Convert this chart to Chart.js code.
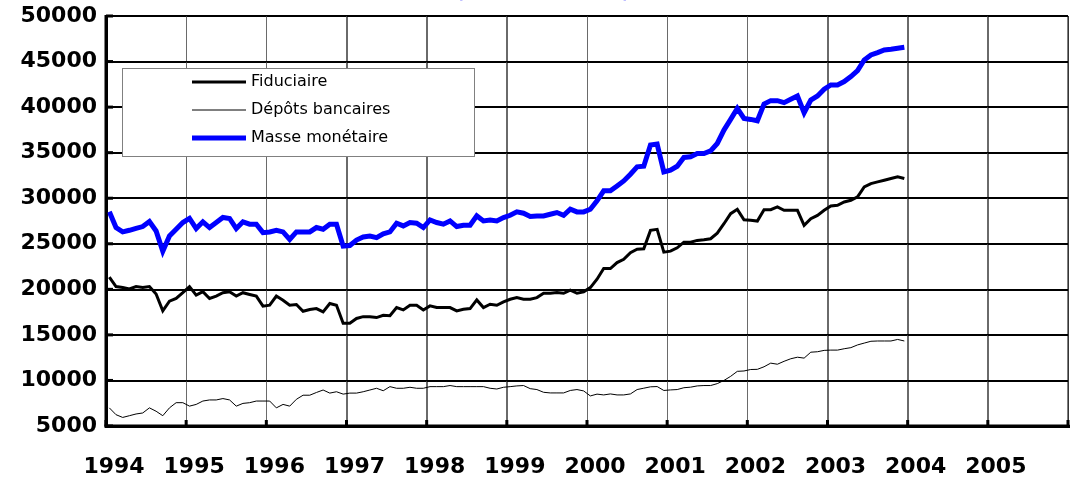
<!DOCTYPE html>
<html>
<head>
<meta charset="utf-8">
<script src="https://cdn.jsdelivr.net/npm/chart.js@4.4.1/dist/chart.umd.min.js"></script>
<style>
html, body { margin: 0; padding: 0; background: #fff; overflow: hidden; }
#wrap { width: 1075px; height: 482px; position: relative; }
#gridLayer { position: absolute; left: 0; top: 0; width: 1075px; height: 482px; z-index: 0; }
#gridLayer div { position: absolute; }
#chart { position: relative; z-index: 1; }
#title {
    position: absolute; left: 393px; top: -15px; width: 300px; z-index: 2;
    text-align: center; color: #0000FF; font: bold 16px/16px 'DejaVu Sans', Arial, sans-serif;
}
</style>
</head>
<body>
<div id="wrap">
    <div id="gridLayer"></div>
    <div id="title">(en millions de DH)</div>
    <canvas id="chart"></canvas>
</div>
<script>
// monthly series, Jan 1994 -> Dec 2003
var startYear = 1994;
var yearLabels = [1994, 1995, 1996, 1997, 1998, 1999, 2000, 2001, 2002, 2003, 2004, 2005];

var fiduciaire = [
    21330, 20300, 20190, 20040, 20300, 20190, 20300, 19480, 17630, 18700,
    19000, 19630, 20300, 19370, 19740, 19000, 19260, 19630, 19740, 19260,
    19630, 19440, 19260, 18150, 18260, 19260, 18810, 18260, 18330, 17590,
    17780, 17890, 17520, 18440, 18260, 16280, 16280, 16800, 17000, 17000,
    16900, 17150, 17100, 18000, 17740, 18250, 18250, 17740, 18180, 18000,
    18000, 18000, 17630, 17810, 17890, 18840, 18000, 18360, 18250, 18620,
    18910, 19090, 18910, 18910, 19090, 19570, 19570, 19640, 19570, 19900,
    19570, 19720, 20190, 21110, 22280, 22280, 22940, 23300, 24030, 24400,
    24450, 26470, 26580, 24080, 24190, 24560, 25180, 25180, 25370, 25440,
    25550, 26170, 27200, 28300, 28780, 27640, 27570, 27490, 28740, 28740,
    29040, 28670, 28670, 28670, 27020, 27750, 28120, 28670, 29150, 29220,
    29590, 29770, 30140, 31240, 31610, 31790, 31970, 32160, 32340, 32160
];

var depots = [
    6990, 6240, 5940, 6130, 6320, 6430, 6990, 6620, 6130, 6990,
    7560, 7560, 7180, 7370, 7740, 7860, 7860, 8010, 7860, 7180,
    7480, 7560, 7740, 7740, 7740, 6990, 7370, 7180, 7930, 8380,
    8380, 8680, 8950, 8610, 8760, 8500, 8610, 8610, 8760, 8950,
    9140, 8870, 9320, 9140, 9140, 9250, 9140, 9140, 9320, 9320,
    9320, 9440, 9320, 9320, 9320, 9320, 9320, 9140, 9060, 9250,
    9320, 9400, 9440, 9100, 9000, 8700, 8630, 8630, 8630, 8900,
    9000, 8850, 8300, 8500, 8410, 8520, 8410, 8410, 8520, 9000,
    9150, 9300, 9330, 8900, 8960, 9000, 9200, 9260, 9400, 9440,
    9440, 9650, 10000, 10450, 11000, 11040, 11200, 11220, 11500, 11900,
    11780, 12100, 12380, 12550, 12450, 13100, 13150, 13300, 13330, 13330,
    13480, 13600, 13900, 14100, 14300, 14330, 14330, 14330, 14500, 14330
];

var masse = [
    28520, 26780, 26300, 26480, 26700, 26890, 27440, 26410, 24180, 25850,
    26590, 27330, 27780, 26670, 27410, 26780, 27330, 27890, 27780, 26670,
    27410, 27150, 27150, 26220, 26300, 26480, 26300, 25480, 26300, 26300,
    26300, 26780, 26590, 27150, 27150, 24740, 24810, 25410, 25740, 25850,
    25680, 26100, 26300, 27260, 26960, 27330, 27260, 26780, 27620, 27330,
    27150, 27510, 26890, 27040, 27040, 28060, 27510, 27620, 27510, 27880,
    28130, 28500, 28350, 27990, 28060, 28060, 28240, 28430, 28130, 28790,
    28500, 28500, 28790, 29710, 30810, 30810, 31350, 31900, 32640, 33450,
    33510, 35830, 35940, 32890, 33070, 33510, 34470, 34540, 34910, 34910,
    35200, 36010, 37480, 38650, 39860, 38760, 38650, 38500, 40340, 40710,
    40710, 40490, 40850, 41220, 39380, 40780, 41220, 41960, 42430, 42430,
    42800, 43350, 44010, 45180, 45730, 45990, 46280, 46360, 46470, 46580
];

// each month sits in the middle of its slot
function toPoints(values) {
    return values.map(function (v, i) {
        return { x: startYear + (i + 0.5) / 12, y: v };
    });
}

var fontFam = "'DejaVu Sans', Arial, sans-serif";

// frame, inner ticks and legend box on top of the lines
var overlay = {
    id: 'overlay',
    afterDraw: function (chart) {
        var ctx = chart.ctx;
        var xs = chart.scales.x, ys = chart.scales.y;
        var left = xs.getPixelForValue(xs.min), right = xs.getPixelForValue(xs.max);
        var top = ys.getPixelForValue(ys.max), bottom = ys.getPixelForValue(ys.min);
        ctx.save();
        ctx.fillStyle = '#000';
        ctx.fillRect(right - 0.5, top, 1, bottom - top);
        ctx.fillRect(left - 1.5, top - 1, 3, bottom - top + 2.5);
        ctx.fillRect(left - 1.5, bottom - 1.5, right - left + 3, 3);
        xs.ticks.forEach(function (t) {
            ctx.fillRect(xs.getPixelForValue(t.value) - 1.5, bottom - 6, 3, 6);
        });
        ys.ticks.forEach(function (t) {
            ctx.fillRect(left, ys.getPixelForValue(t.value) - 1.5, 7, 3);
        });

        var x0 = 122, y0 = 68, w = 352, h = 88;
        ctx.fillStyle = '#fff';
        ctx.fillRect(x0, y0, w, h);
        ctx.strokeStyle = '#808080';
        ctx.lineWidth = 1;
        ctx.strokeRect(x0 + 0.5, y0 + 0.5, w, h);
        ctx.font = '16px ' + fontFam;
        ctx.textBaseline = 'middle';
        ctx.fillStyle = '#000';
        chart.data.datasets.forEach(function (ds, k) {
            var y = 82 + k * 28;
            ctx.beginPath();
            ctx.strokeStyle = ds.borderColor;
            ctx.lineWidth = ds.borderWidth;
            ctx.moveTo(192, y);
            ctx.lineTo(246, y);
            ctx.stroke();
            ctx.fillText(ds.label, 251, y);
        });
        ctx.restore();
    }
};

var chart = new Chart('chart', {
    type: 'line',
    data: {
        datasets: [{
            label: 'Fiduciaire',
            data: toPoints(fiduciaire),
            borderColor: '#000000',
            borderWidth: 3
        }, {
            label: 'Dépôts bancaires',
            data: toPoints(depots),
            borderColor: '#000000',
            borderWidth: 1
        }, {
            label: 'Masse monétaire',
            data: toPoints(masse),
            borderColor: '#0000FF',
            borderWidth: 5
        }]
    },
    options: {
        responsive: true,
        maintainAspectRatio: false,
        animation: false,
        layout: { padding: { left: 0, right: 7, top: 16, bottom: 0 } },
        elements: {
            point: { radius: 0 },
            line: { tension: 0 }
        },
        plugins: {
            legend: { display: false },
            tooltip: { enabled: false }
        },
        scales: {
            x: {
                type: 'linear',
                min: 1994,
                max: 2006,
                afterFit: function (s) {
                    s.height = 56;
                    s.paddingLeft = 0;
                    s.paddingRight = 0;
                },
                ticks: {
                    stepSize: 1,
                    padding: 28,
                    labelOffset: 8,
                    color: '#000',
                    maxRotation: 0,
                    autoSkip: false,
                    font: { family: fontFam, size: 22, weight: 'bold' },
                    callback: function (v) {
                        return yearLabels.indexOf(v) >= 0 ? String(v) : '';
                    }
                },
                grid: { color: '#6a6a6a', lineWidth: 1, drawTicks: false }
            },
            y: {
                min: 5000,
                max: 50000,
                afterFit: function (s) {
                    s.width = 106;
                    s.paddingTop = 0;
                    s.paddingBottom = 0;
                },
                ticks: {
                    stepSize: 5000,
                    padding: 9,
                    color: '#000',
                    font: { family: fontFam, size: 22, weight: 'bold' },
                    callback: function (v) { return String(v); }
                },
                grid: { color: '#000', lineWidth: 1.5, drawTicks: false }
            }
        }
    },
    plugins: [overlay]
});

// same grid again as html lines behind the (transparent) canvas
function buildGridLayer(ch) {
    var layer = document.getElementById('gridLayer');
    var xs = ch.scales.x, ys = ch.scales.y;
    var left = xs.getPixelForValue(xs.min), right = xs.getPixelForValue(xs.max);
    var top = ys.getPixelForValue(ys.max), bottom = ys.getPixelForValue(ys.min);
    var html = '';
    xs.ticks.forEach(function (t) {
        var px = Math.round(xs.getPixelForValue(t.value));
        var col = t.value === xs.max ? '#000' : '#6a6a6a';
        html += '<div style="left:' + px + 'px;top:' + top + 'px;width:1px;height:' + (bottom - top) + 'px;background:' + col + '"></div>';
    });
    ys.ticks.forEach(function (t) {
        var py = Math.round(ys.getPixelForValue(t.value) - 0.75);
        html += '<div style="left:' + left + 'px;top:' + py + 'px;width:' + (right - left) + 'px;height:1.5px;background:#000"></div>';
    });
    html += '<div style="left:' + (left - 1.5) + 'px;top:' + (top - 1) + 'px;width:3px;height:' + (bottom - top + 2.5) + 'px;background:#000"></div>';
    html += '<div style="left:' + (left - 1.5) + 'px;top:' + (bottom - 1.5) + 'px;width:' + (right - left + 3) + 'px;height:3px;background:#000"></div>';
    layer.innerHTML = html;
}
buildGridLayer(chart);
</script>
</body>
</html>
